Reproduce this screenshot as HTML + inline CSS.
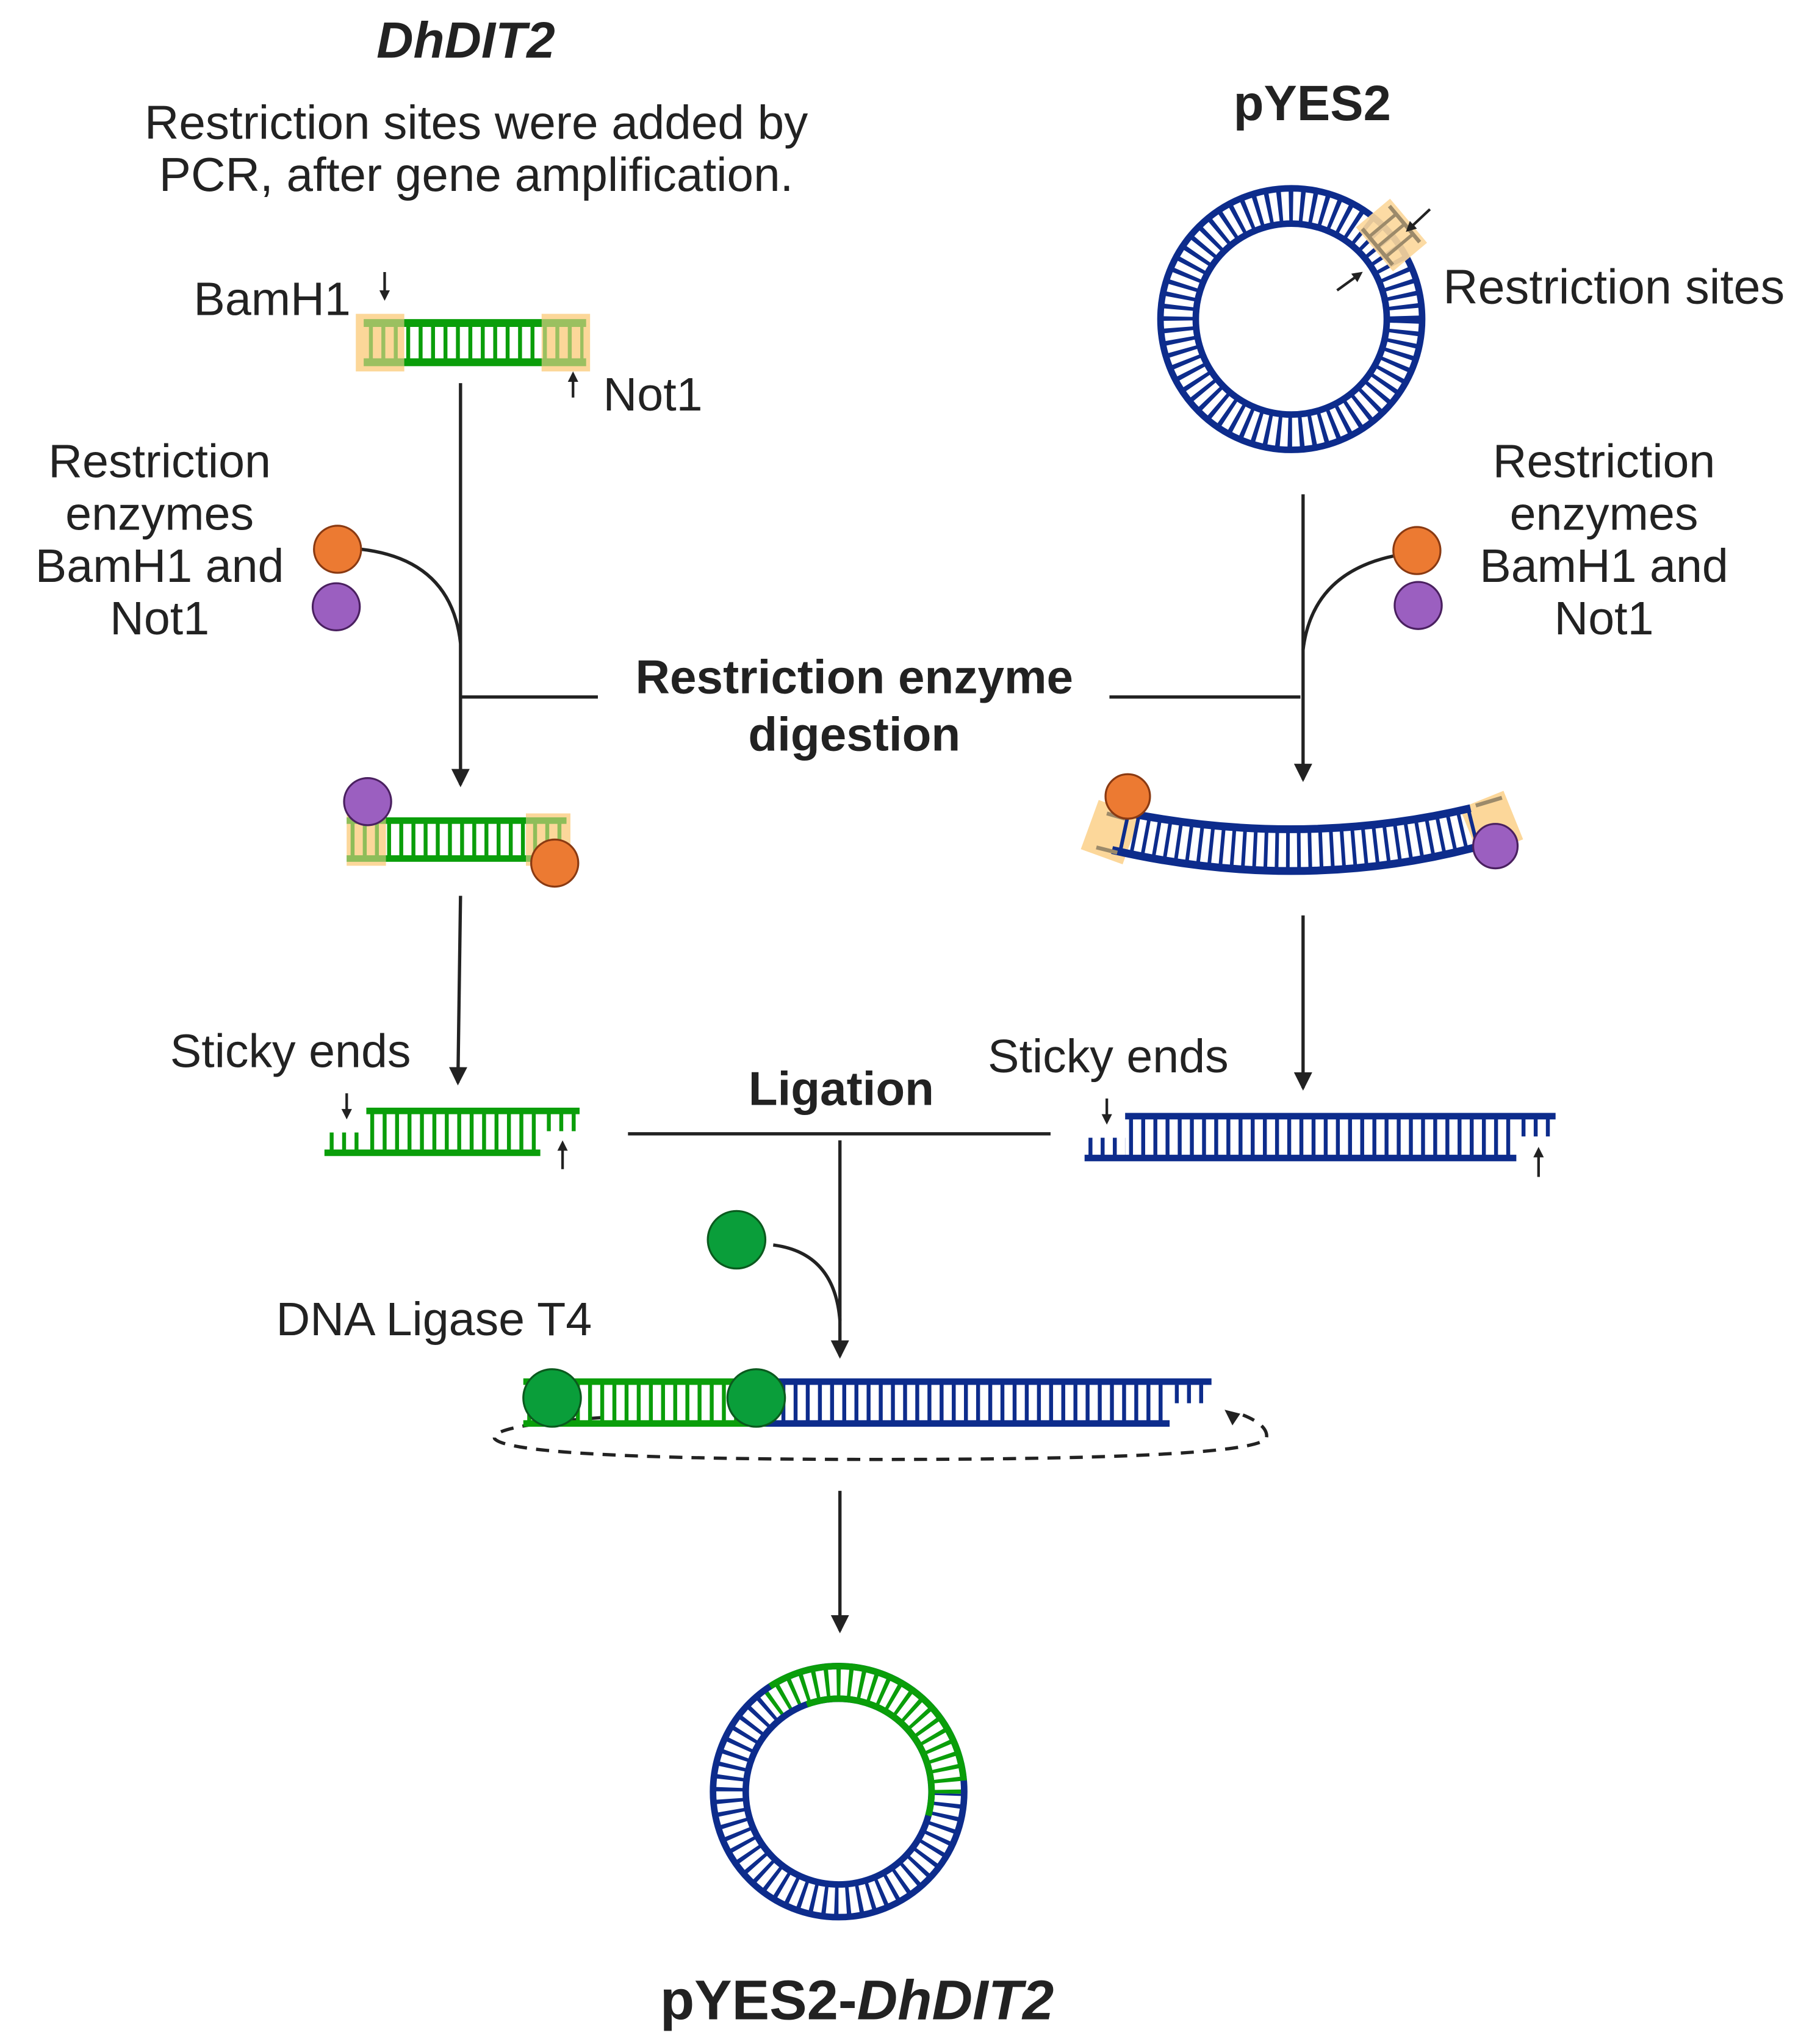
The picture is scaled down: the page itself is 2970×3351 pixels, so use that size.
<!DOCTYPE html>
<html><head><meta charset="utf-8"><style>
html,body{margin:0;padding:0;background:#fff}
svg{display:block}
text{font-family:"Liberation Sans",sans-serif;fill:#222}
</style></head><body>
<svg width="2970" height="3351" viewBox="0 0 1385 1563" preserveAspectRatio="none" xmlns="http://www.w3.org/2000/svg">
<defs>
<marker id="ah" markerWidth="8" markerHeight="8" refX="6" refY="4" orient="auto" markerUnits="userSpaceOnUse" viewBox="0 0 8 8"><path d="M0,0 L8,4 L0,8 Z" fill="#222"/></marker>
<marker id="ab" markerWidth="14" markerHeight="14" refX="12" refY="7" orient="auto" markerUnits="userSpaceOnUse" viewBox="0 0 14 14"><path d="M0,0 L14,7 L0,14 Z" fill="#222"/></marker>
</defs>

<!-- Titles -->
<text x="356" y="44" font-size="39" font-weight="bold" font-style="italic" text-anchor="middle">DhDIT2</text>
<text x="364" y="106" font-size="36.5" text-anchor="middle">Restriction sites were added by</text>
<text x="364" y="146" font-size="36.5" text-anchor="middle">PCR, after gene amplification.</text>
<text x="1003" y="92" font-size="38" font-weight="bold" text-anchor="middle">pYES2</text>

<!-- Gene -->
<rect x="272" y="240" width="37" height="44" fill="#fcd79a"/>
<rect x="414" y="240" width="37" height="44" fill="#fcd79a"/>
<line x1="280" y1="262" x2="446" y2="262" stroke="#0a9e0a" stroke-width="28" stroke-dasharray="3 6.5" stroke-dashoffset="-2"/>
<rect x="278" y="244" width="170" height="6" fill="#0a9e0a"/>
<rect x="278" y="274" width="170" height="6" fill="#0a9e0a"/>
<rect x="272" y="240" width="37" height="44" fill="#fcd79a" opacity="0.6"/>
<rect x="414" y="240" width="37" height="44" fill="#fcd79a" opacity="0.6"/>
<text x="148" y="241" font-size="36">BamH1</text>
<line x1="294" y1="208" x2="294" y2="228" stroke="#222" stroke-width="2" marker-end="url(#ah)"/>
<text x="461" y="314" font-size="36">Not1</text>
<line x1="438" y1="304" x2="438" y2="286" stroke="#222" stroke-width="2" marker-end="url(#ah)"/>

<!-- left flow -->
<line x1="352" y1="293" x2="352" y2="600" stroke="#222" stroke-width="2.5" marker-end="url(#ab)"/>
<path d="M276,420 Q345,428 352,492" fill="none" stroke="#222" stroke-width="2.5"/>
<circle cx="258" cy="420" r="18" fill="#ec7a32" stroke="#8a3a12" stroke-width="1.5"/>
<circle cx="257" cy="464" r="18" fill="#9b5fc0" stroke="#4a2060" stroke-width="1.5"/>
<text font-size="36" text-anchor="middle"><tspan x="122" y="365">Restriction</tspan><tspan x="122" y="405">enzymes</tspan><tspan x="122" y="445">BamH1 and</tspan><tspan x="122" y="485">Not1</tspan></text>

<!-- center label -->
<line x1="352" y1="533" x2="457" y2="533" stroke="#222" stroke-width="2.5"/>
<line x1="848" y1="533" x2="994" y2="533" stroke="#222" stroke-width="2.5"/>
<text x="653" y="530" font-size="36.5" font-weight="bold" text-anchor="middle">Restriction enzyme</text>
<text x="653" y="574" font-size="36.5" font-weight="bold" text-anchor="middle">digestion</text>

<!-- plasmid pYES2 -->
<circle cx="987" cy="244" r="87" fill="none" stroke="#0d2c8c" stroke-width="28" stroke-dasharray="3.2 5.3"/>
<circle cx="987" cy="244" r="100" fill="none" stroke="#0d2c8c" stroke-width="5"/>
<circle cx="987" cy="244" r="73" fill="none" stroke="#0d2c8c" stroke-width="5"/>
<g transform="rotate(-40 987 244)"><rect x="1070" y="222" width="34" height="44" fill="#fcd79a" opacity="0.9"/>
<line x1="1073" y1="226" x2="1073" y2="262" stroke="#9c8a6a" stroke-width="3"/><line x1="1100" y1="226" x2="1100" y2="262" stroke="#9c8a6a" stroke-width="3"/>
<line x1="1073" y1="234" x2="1100" y2="234" stroke="#9c8a6a" stroke-width="2.5"/><line x1="1073" y1="244" x2="1100" y2="244" stroke="#9c8a6a" stroke-width="2.5"/><line x1="1073" y1="254" x2="1100" y2="254" stroke="#9c8a6a" stroke-width="2.5"/></g>
<line x1="1093" y1="160" x2="1076" y2="176" stroke="#222" stroke-width="2" marker-end="url(#ah)"/>
<line x1="1022" y1="222" x2="1040" y2="209" stroke="#222" stroke-width="2" marker-end="url(#ah)"/>
<text x="1103" y="232" font-size="37">Restriction sites</text>

<!-- right flow -->
<line x1="996" y1="378" x2="996" y2="596" stroke="#222" stroke-width="2.5" marker-end="url(#ab)"/>
<path d="M1066,425 Q1003,438 996,497" fill="none" stroke="#222" stroke-width="2.5"/>
<circle cx="1083" cy="421" r="18" fill="#ec7a32" stroke="#8a3a12" stroke-width="1.5"/>
<circle cx="1084" cy="463" r="18" fill="#9b5fc0" stroke="#4a2060" stroke-width="1.5"/>
<text font-size="36" text-anchor="middle"><tspan x="1226" y="365">Restriction</tspan><tspan x="1226" y="405">enzymes</tspan><tspan x="1226" y="445">BamH1 and</tspan><tspan x="1226" y="485">Not1</tspan></text>

<!-- digested gene -->
<rect x="265" y="622" width="30" height="40" fill="#fcd79a"/>
<rect x="402" y="622" width="34" height="40" fill="#fcd79a"/>
<line x1="268" y1="642" x2="432" y2="642" stroke="#0a9e0a" stroke-width="26" stroke-dasharray="3 6.3"/>
<rect x="265" y="625" width="168" height="5" fill="#0a9e0a"/>
<rect x="265" y="654" width="168" height="5" fill="#0a9e0a"/>
<rect x="265" y="622" width="30" height="40" fill="#fcd79a" opacity="0.55"/>
<rect x="402" y="622" width="34" height="40" fill="#fcd79a" opacity="0.55"/>
<circle cx="281" cy="613" r="18" fill="#9b5fc0" stroke="#4a2060" stroke-width="1.5"/>
<circle cx="424" cy="660" r="18" fill="#ec7a32" stroke="#8a3a12" stroke-width="1.5"/>

<!-- digested plasmid -->
<g transform="rotate(20 848 636)"><rect x="832" y="616" width="34" height="40" fill="#fcd79a"/></g>
<g transform="rotate(-22 1140 630)"><rect x="1122" y="610" width="36" height="40" fill="#fcd79a"/></g>
<path d="M858,636 Q997,666 1130,632" fill="none" stroke="#0d2c8c" stroke-width="28" stroke-dasharray="2.8 5.6"/>
<path d="M864,622 Q997,648 1124,618" fill="none" stroke="#0d2c8c" stroke-width="6"/>
<path d="M850,650 Q997,684 1135,646" fill="none" stroke="#0d2c8c" stroke-width="6"/>
<line x1="846" y1="622" x2="860" y2="626" stroke="#9c8a6a" stroke-width="3"/>
<line x1="838" y1="648" x2="854" y2="652" stroke="#9c8a6a" stroke-width="3"/>
<line x1="1128" y1="616" x2="1148" y2="610" stroke="#9c8a6a" stroke-width="3"/>
<circle cx="862" cy="609" r="17" fill="#ec7a32" stroke="#8a3a12" stroke-width="1.5"/>
<circle cx="1143" cy="647" r="17" fill="#9b5fc0" stroke="#4a2060" stroke-width="1.5"/>

<!-- arrows down -->
<line x1="352" y1="685" x2="350" y2="828" stroke="#222" stroke-width="2.5" marker-end="url(#ab)"/>
<line x1="996" y1="700" x2="996" y2="832" stroke="#222" stroke-width="2.5" marker-end="url(#ab)"/>

<!-- sticky ends left -->
<text x="130" y="816" font-size="36">Sticky ends</text>
<line x1="283" y1="865" x2="413" y2="865" stroke="#0a9e0a" stroke-width="30" stroke-dasharray="3 6.5"/>
<line x1="418" y1="858" x2="443" y2="858" stroke="#0a9e0a" stroke-width="14" stroke-dasharray="3 6.5"/>
<line x1="252" y1="873" x2="280" y2="873" stroke="#0a9e0a" stroke-width="14" stroke-dasharray="3 6.5"/>
<rect x="280" y="847" width="163" height="5" fill="#0a9e0a"/>
<rect x="248" y="879" width="165" height="5" fill="#0a9e0a"/>
<line x1="265" y1="836" x2="265" y2="854" stroke="#222" stroke-width="2" marker-end="url(#ah)"/>
<line x1="430" y1="894" x2="430" y2="874" stroke="#222" stroke-width="2" marker-end="url(#ah)"/>

<!-- ligation -->
<text x="643" y="845" font-size="36.5" font-weight="bold" text-anchor="middle">Ligation</text>
<line x1="480" y1="867" x2="803" y2="867" stroke="#222" stroke-width="2.5"/>
<line x1="642" y1="872" x2="642" y2="1037" stroke="#222" stroke-width="2.5" marker-end="url(#ab)"/>

<!-- sticky ends right -->
<text x="755" y="820" font-size="36">Sticky ends</text>
<line x1="863" y1="869" x2="1158" y2="869" stroke="#0d2c8c" stroke-width="30" stroke-dasharray="3 6.3"/>
<line x1="1163" y1="862" x2="1189" y2="862" stroke="#0d2c8c" stroke-width="14" stroke-dasharray="3 6.3"/>
<line x1="832" y1="877" x2="860" y2="877" stroke="#0d2c8c" stroke-width="14" stroke-dasharray="3 6.3"/>
<rect x="860" y="851" width="329" height="5" fill="#0d2c8c"/>
<rect x="829" y="883" width="330" height="5" fill="#0d2c8c"/>
<line x1="846" y1="840" x2="846" y2="858" stroke="#222" stroke-width="2" marker-end="url(#ah)"/>
<line x1="1176" y1="900" x2="1176" y2="879" stroke="#222" stroke-width="2" marker-end="url(#ah)"/>

<!-- ligase -->
<path d="M591,952 Q638,958 642,1010" fill="none" stroke="#222" stroke-width="2.5"/>
<circle cx="563" cy="948" r="22" fill="#0a9e3a" stroke="#0b5a1e" stroke-width="1.5"/>
<text x="211" y="1021" font-size="36">DNA Ligase T4</text>

<!-- ligated -->
<path d="M460,1084 Q375,1090 378,1100 Q390,1116 672,1116 Q955,1116 968,1100 Q970,1090 950,1082" fill="none" stroke="#222" stroke-width="2.5" stroke-dasharray="10 7"/>
<path d="M948,1081 l-12,-3 l6,12 z" fill="#222"/>
<line x1="588" y1="1072" x2="893" y2="1072" stroke="#0d2c8c" stroke-width="30" stroke-dasharray="3 6.3"/>
<line x1="898" y1="1066" x2="923" y2="1066" stroke="#0d2c8c" stroke-width="14" stroke-dasharray="3 6.3"/>
<line x1="403" y1="1072" x2="585" y2="1072" stroke="#0a9e0a" stroke-width="30" stroke-dasharray="3 6.3"/>
<rect x="400" y="1054" width="185" height="5" fill="#0a9e0a"/>
<rect x="400" y="1086" width="185" height="5" fill="#0a9e0a"/>
<rect x="585" y="1054" width="341" height="5" fill="#0d2c8c"/>
<rect x="585" y="1086" width="309" height="5" fill="#0d2c8c"/>
<circle cx="422" cy="1069" r="22" fill="#0a9e3a" stroke="#0b5a1e" stroke-width="1.5"/>
<circle cx="578" cy="1069" r="22" fill="#0a9e3a" stroke="#0b5a1e" stroke-width="1.5"/>
<line x1="642" y1="1140" x2="642" y2="1247" stroke="#222" stroke-width="2.5" marker-end="url(#ab)"/>

<!-- final plasmid -->
<circle cx="641" cy="1370" r="84" fill="none" stroke="#0d2c8c" stroke-width="26" stroke-dasharray="3 5.8"/>
<path d="M590.4,1302.9 A84,84 0 0 1 725,1371.5" fill="none" stroke="#fff" stroke-width="24"/>
<path d="M590.4,1302.9 A84,84 0 0 1 725,1371.5" fill="none" stroke="#0a9e0a" stroke-width="24" stroke-dasharray="3 5.8"/>
<circle cx="641" cy="1370" r="96" fill="none" stroke="#0d2c8c" stroke-width="5"/>
<circle cx="641" cy="1370" r="71" fill="none" stroke="#0d2c8c" stroke-width="5"/>
<path d="M588.7,1289.5 A96,96 0 0 1 736.6,1361.6" fill="none" stroke="#0a9e0a" stroke-width="5"/>
<path d="M616.7,1303.3 A71,71 0 0 1 709.6,1388.4" fill="none" stroke="#0a9e0a" stroke-width="5"/>
<text x="655" y="1544" font-size="43" font-weight="bold" text-anchor="middle">pYES2-<tspan font-style="italic">DhDIT2</tspan></text>
</svg>
</body></html>
